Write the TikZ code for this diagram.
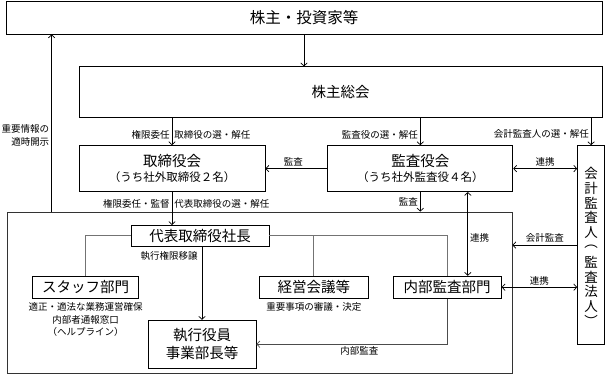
\documentclass[tikz,border=0pt]{standalone}
\usepackage{fontspec}
\setmainfont{Noto Sans CJK JP}
\usetikzlibrary{arrows.meta,positioning}
\newcommand\subsize{\fontsize{11.5}{13}\selectfont}
\newcommand\tightlines{\lineskiplimit=-50pt\relax}

\begin{document}
\begin{tikzpicture}[
  x=1pt, y=-1pt,
  org/.style={draw, line width=0.8pt, inner sep=0pt, align=center, font=\fontsize{14.5}{17}\selectfont},
  note/.style={font=\fontsize{9.5}{12.5}\selectfont, inner sep=2pt},
  tree/.style={draw=black!55, line width=1pt},
  link/.style={->, line width=0.7pt},
  >={Straight Barb[length=3pt,width=6.5pt]}
]
\useasboundingbox (0,0) rectangle (605,374);

\node [org, minimum width=596pt, minimum height=33pt, font=\fontsize{15.5}{18}\selectfont] (investors) at (304,17.5) {株主・投資家等};
\node [org, minimum width=523pt, minimum height=51pt, below=32pt of investors.south east, anchor=north east] (meeting) {株主総会};
\node [org, minimum width=186pt, minimum height=46pt, below=27pt of meeting.south west, anchor=north west] (board)
  {取締役会\\[-2pt]{\subsize （うち社外取締役２名）}};
\node [org, minimum width=185pt, minimum height=46pt, right=62pt of board] (audit)
  {監査役会\\[-2pt]{\subsize （うち社外監査役４名）}};
\node [org, minimum width=27pt, minimum height=199pt, right=64pt of audit.north east, anchor=north west] (auditor) {};
% vertical writing, one glyph per row
\foreach \ch [count=\i] in {会,計,監,査,人,︵,監,査,法,人,︶}
  \node [font=\fontsize{13.5}{15}\selectfont, inner sep=0pt] (auditor-\i) at ([yshift=-13.2pt-14.8pt*\i]auditor.north) {\ch};

% execution side
\node [org, draw=black!80, minimum width=505pt, minimum height=161pt] (group) at (259.5,292.5) {};
\node [org, minimum width=138pt, minimum height=21pt, below=33pt of board, xshift=28pt] (president) {代表取締役社長};
\node [org, minimum width=106pt, minimum height=22pt, below=29pt of president.south west, anchor=north, xshift=-45pt] (staff) {スタッフ部門};
\node [org, minimum width=109pt, minimum height=22pt, right=120pt of staff] (mgmt) {経営会議等};
\node [org, minimum width=108pt, minimum height=22pt, right=24pt of mgmt] (internal) {内部監査部門};
\node [org, minimum width=108pt, minimum height=48pt, font=\fontsize{14.5}{17.5}\selectfont\tightlines, below=73pt of president, xshift=2pt] (exec) {執行役員\\事業部長等};

\node [note, below=2pt of staff, align=center] (staffnote) {適正・適法な業務運営確保\\内部者通報窓口\\（ヘルプライン）};
\node [note, below=2pt of mgmt] (mgmtnote) {重要事項の審議・決定};

\coordinate (up) at ([xshift=45pt]group.north west);
\coordinate (tie) at ([xshift=47.5pt]audit.south);

% shareholders
\draw [link] (investors.south) -- (investors.south |- meeting.north);
\draw [link] (up) -- (up |- investors.south)
  node [note, pos=0.43, left, align=right] {重要情報の\\適時開示};
\path [link] (meeting.south -| board.north) edge node [note, pos=0.6, left] {権限委任} node [note, pos=0.6, right] {取締役の選・解任} (board.north);
\path [link] (meeting.south -| audit.north) edge node [note, pos=0.6, left] {監査役の選・解任} (audit.north);
\path [link] (meeting.south -| auditor.north) edge node [note, pos=0.6, left] {会計監査人の選・解任} (auditor.north);

% audit
\path [link] (audit.west) edge node [note, above, pos=0.55] {監査} (board.east);
\path [link, <->] (audit.east) edge node [note, above] {連携} (audit.east -| auditor.west);
\path [link] (audit.south) edge node [note, left] {監査} (audit.south |- group.north);
\path [link, <->] (tie) edge node [note, right, pos=0.55] {連携} (tie |- internal.north);
\path [link] (auditor.west) edge node [note, above] {会計監査} (auditor.west -| group.east);
\path [link, <->] (internal.east) edge node [note, above] {連携} (internal.east -| auditor.west);

% board to president
\path [link] (board.south) edge node [note, pos=0.35, left] {権限委任・監督} node [note, pos=0.35, right] {代表取締役の選・解任} (board.south |- president.north);

% president
\draw [tree] (president.west) -| (staff.north);
\draw [tree] (president.east) -| (internal.north);
\draw [tree] (mgmt.north) -- (mgmt.north |- president.east);
\draw [link] (exec.north |- president.south) -- (exec.north)
  node [note, pos=0.12, left, xshift=-2pt] {執行権限移譲};
\draw [link, draw=black!70] (internal.south) |- (exec.east)
  node [note, pos=0.73, below] {内部監査};
\end{tikzpicture}
\end{document}
